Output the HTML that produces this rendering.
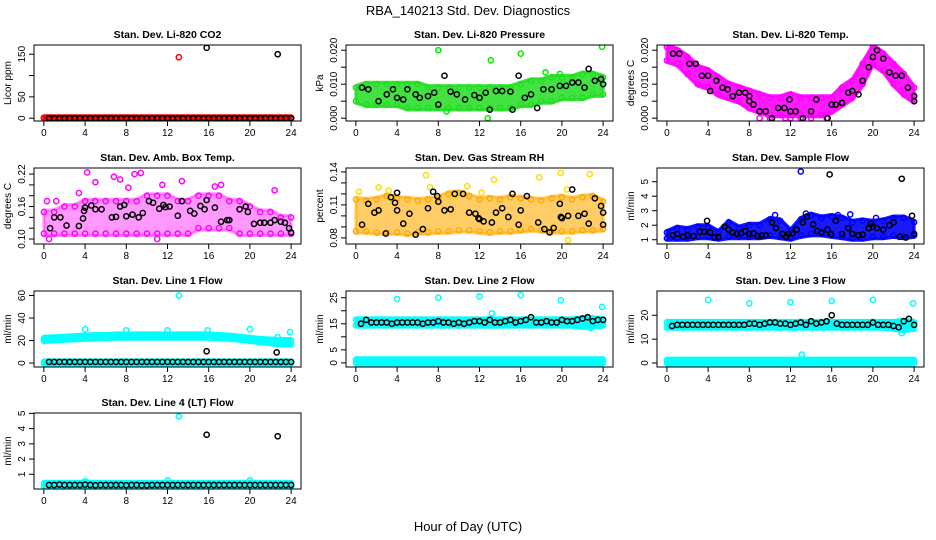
<!DOCTYPE html>
<html><head><meta charset="utf-8"><style>
html,body{margin:0;padding:0;background:#fff}
svg{display:block;font-family:"Liberation Sans",sans-serif}
</style></head><body>
<svg id="chart" width="936" height="540" viewBox="0 0 936 540" xmlns="http://www.w3.org/2000/svg">
<text x="468" y="15" text-anchor="middle" font-size="13">RBA_140213  Std. Dev. Diagnostics</text>
<text x="468" y="531" text-anchor="middle" font-size="13">Hour of Day (UTC)</text>
</svg>
<script>
// ---------- data ----------
const HR = [0,1,2,3,4,5,6,7,8,9,10,11,12,13,14,15,16,17,18,19,20,21,22,23,24];
const HH = [0.5,1,1.5,2,2.5,3,3.5,4,4.5,5,5.5,6,6.5,7,7.5,8,8.5,9,9.5,10,10.5,11,11.5,12,12.5,13,13.5,14,14.5,15,15.5,16,16.5,17,17.5,18,18.5,19,19.5,20,20.5,21,21.5,22,22.5,23,23.5,24];
const xTicks = [0,4,8,12,16,20,24];

// CO2
const co2RedLo = [0,0,0,0,0,0,0,0,0,0,0,0,0,0,0,0,0,0,0,0,0,0,0,0,0];
const co2RedHi = [1,1,1,1,1,1,1,1,1,1,1,1,1,1,1,1,1,1,1,1,1,1,1,1,1];
const co2RedOutX = [13.1,22.6];
const co2RedOutY = [143,0];
const co2BlkY = [0,0,0,0,0,0,0,0,0,0,0,0,0,0,0,0,0,0,0,0,0,0,0,0,0,0,0,0,0,0,0,0,0,0,0,0,0,0,0,0,0,0,0,0,0,0,0,0];
const co2BlkOutX = [15.8,22.7];
const co2BlkOutY = [165,150];

// Pressure
const prsLo = [.005,.004,.004,.004,.004,.003,.003,.003,.003,.003,.003,.003,.003,.003,.003,.003,.004,.004,.005,.005,.006,.006,.006,.007,.007];
const prsHi = [.009,.010,.010,.010,.010,.010,.010,.009,.009,.009,.009,.009,.009,.009,.009,.009,.010,.011,.011,.012,.012,.012,.013,.013,.012];
const prsOutX = [8,13.1,16,18.4,19.8,23.9,12.8,8.8];
const prsOutY = [.020,.017,.019,.0135,.013,.021,.0,.002];
const prsBlkX = [0.6,1.2,2.2,3,3.6,4,4.6,5,5.8,6.2,7,7.6,8,8.6,9.2,9.8,10.6,11.5,12,12.6,13,13.6,14.2,15,15.2,15.8,16.4,17,17.6,18.2,19,19.8,20.4,21,21.6,22.2,22.6,23.2,23.8,24];
const prsBlkY = [.009,.0085,.005,.007,.0085,.006,.0055,.0085,.007,.006,.0065,.0075,.004,.0125,.0078,.007,.0055,.0068,.006,.0075,.0025,.008,.008,.0078,.0025,.0125,.006,.007,.003,.0085,.0085,.0095,.0095,.0105,.0105,.009,.0145,.011,.0115,.01];

// Li-820 Temp
const tmpLo = [.017,.016,.013,.010,.009,.007,.006,.005,.003,.002,.001,.001,.001,.001,.001,.001,.002,.004,.006,.010,.016,.014,.010,.007,.005];
const tmpHi = [.021,.020,.018,.015,.014,.012,.010,.009,.008,.007,.006,.006,.007,.006,.006,.006,.006,.009,.011,.016,.021,.019,.016,.013,.009];
const tmpOutX = [9,10,11.5,12,13,14,15.5];
const tmpOutY = [0,0,0,0,0,0,0];
const tmpBlkX = [0.6,1.2,2.2,2.8,3.4,4,4.2,4.8,5.4,5.9,6.4,7,7.6,8,8,8.4,9,9.6,10.2,10.8,11.4,11.9,12,12.5,13.2,14,14.5,15.6,16,16.4,17,17.6,18,18.6,19,19.6,20,20.4,21,21.6,22.2,22.8,23.4,24,24];
const tmpBlkY = [.019,.019,.016,.016,.0125,.0125,.008,.011,.009,.0085,.0065,.0075,.0075,.0065,.005,.004,.002,.002,.0,.003,.003,.0055,.002,.002,.0,.002,.0055,.0,.004,.004,.0045,.0075,.008,.007,.011,.015,.018,.020,.0175,.0135,.0125,.0125,.009,.0065,.005];

// Amb box temp
const ambLo = [.11,.11,.11,.11,.11,.11,.11,.11,.11,.11,.11,.11,.11,.11,.11,.12,.12,.12,.12,.11,.11,.11,.11,.11,.11];
const ambHi = [.15,.15,.16,.16,.17,.17,.17,.17,.17,.17,.18,.18,.18,.17,.17,.18,.18,.18,.17,.17,.16,.15,.15,.14,.14];
const ambOutX = [4.2,5,6.8,7.4,8.2,8.8,9.4,11.5,13.4,16.6,22.4,11,0.5,17.2,0.3,1.2,3.4];
const ambOutY = [.223,.205,.215,.21,.195,.22,.222,.2,.207,.197,.19,.1,.1,.2,.17,.17,.185];
const ambBlkX = [0.6,1,1.6,2.2,3.4,3.8,3.9,4,4.6,5,5.6,6.6,7,7.4,7.8,8,8.6,9.2,9.6,10.2,10.6,11.2,11.6,11.8,12.2,13,13.4,14.2,14.6,15.2,15.6,15.8,16.6,17.2,17.8,18,19,19.6,19.8,20.4,21,21.4,22,22.4,23,23.4,23.8,24];
const ambBlkY = [.12,.14,.14,.125,.124,.138,.152,.158,.162,.155,.155,.14,.141,.16,.163,.142,.145,.14,.148,.17,.167,.156,.163,.159,.16,.143,.17,.152,.147,.161,.155,.172,.158,.132,.135,.135,.155,.16,.15,.128,.13,.13,.13,.135,.132,.13,.12,.112];

// Gas stream RH
const rhLo = [.086,.086,.085,.085,.085,.084,.085,.085,.086,.086,.087,.087,.086,.085,.086,.086,.087,.088,.087,.086,.086,.086,.087,.087,.088];
const rhHi = [.115,.114,.115,.118,.116,.115,.114,.115,.116,.120,.121,.118,.115,.116,.115,.117,.116,.115,.114,.116,.117,.115,.117,.118,.113];
const rhOutX = [0.3,2.2,6.8,7.2,10.8,13.4,17.8,19.9,22.7,20.6,20.5,9.6,3.2,12.2];
const rhOutY = [.122,.126,.137,.126,.127,.133,.135,.139,.138,.078,.124,.118,.123,.121];
const rhBlkX = [0.6,1.2,1.8,2.2,2.9,3.4,3.8,4,4,4.6,5.2,5.8,6.5,7,7.5,7.9,8,8.6,9.2,9.6,10.4,11,11.6,11.9,12,12.4,13.2,13.6,14.2,14.8,15.2,15.8,16.0,16.6,17.7,18.3,18.8,19.2,19.8,19.9,20,20.6,21.0,21.6,22.2,22.6,23.2,23.8,24,24];
const rhBlkY = [.092,.111,.103,.105,.084,.117,.112,.105,.121,.093,.102,.083,.088,.107,.122,.118,.113,.105,.106,.120,.12,.103,.102,.098,.097,.095,.094,.103,.107,.099,.12,.092,.105,.118,.094,.088,.085,.089,.111,.099,.098,.100,.124,.100,.102,.093,.116,.109,.103,.092];

// Sample flow
const sfLo = [1.1,1.1,1.1,1.2,1.2,1.1,1.2,1.2,1.2,1.2,1.3,1.2,1.1,1.3,1.4,1.4,1.3,1.2,1.1,1.1,1.2,1.2,1.3,1.2,1.3];
const sfHi = [1.5,1.8,1.7,1.9,1.9,1.5,2.2,1.8,2.0,2.0,2.4,2.3,1.6,2.4,2.7,2.5,2.6,2.5,2.2,2.3,2.2,2.3,2.5,2.5,2.2];
const sfOutX = [13,10.5,13.5,16.6,17.8,20.3];
const sfOutY = [5.7,2.7,2.8,2.7,2.75,2.5];
const sfBlkX = [0.6,1,1.6,2,2.6,3.2,3.6,3.9,4.2,4.6,5,5.6,6,6.4,6.8,7.2,7.6,8,8.4,8.8,9.2,9.6,10.2,10.6,11.2,11.6,11.8,12.2,12.6,13.2,13.6,14.2,14.6,15,15.6,15.8,15.9,16.4,17,17.6,18,18.6,19,19.6,19.8,20,20.4,21,21.6,22,22.6,22.8,23.2,23.8,24];
const sfBlkY = [1.3,1.4,1.2,1.3,1.25,1.55,1.55,2.3,1.5,1.15,1.2,1.9,1.7,1.5,1.4,1.45,1.6,1.4,1.45,1.25,1.3,1.3,2.2,1.8,1.4,1.2,1.4,1.45,1.7,2.2,2.6,2.05,1.6,1.5,1.7,5.5,1.4,2.3,1.4,1.8,1.4,1.3,1.35,1.8,2.1,1.9,1.8,1.7,2.0,2.2,1.2,5.2,1.15,2.65,1.4];

// Line 1
const l1Lo = [20,20.5,21,21.5,22,22.5,22.5,23,23,23,23,23,23,23,23,23,23,22.5,22,21,20,19,18,17,17];
const l1Hi = [22,22.5,23,23.5,24,24.5,24.5,25,25,25,25,25,25,25,25,25,25,24.5,24,23,22,21,20.5,20,20];
const l1ZeroLo = [0,0,0,0,0,0,0,0,0,0,0,0,0,0,0,0,0,0,0,0,0,0,0,0,0];
const l1ZeroHi = [1,1,1,1,1,1,1,1,1,1,1,1,1,1,1,1,1,1,1,1,1,1,1,1,1];
const l1OutX = [4,8,12,13.1,15.9,20,22.7,23.9];
const l1OutY = [30,29,29,60,29,30,23,27.5];
const l1BlkY = [1,1,1,1,1,1,1,1,1,1,1,1,1,1,1,1,1,1,1,1,1,1,1,1,1,1,1,1,1,1,1,1,1,1,1,1,1,1,1,1,1,1,1,1,1,1,1,1];
const l1BlkOutX = [15.8,22.6];
const l1BlkOutY = [10.5,9.5];

// Line 2
const l2Lo = [14.5,14.5,14.5,14.5,14.5,14.5,14.5,14.5,14.5,14.5,14.5,14.5,14.5,14.5,14.5,14.5,14.5,14.5,14.5,14.5,14.5,14.5,14,14,14.5];
const l2Hi = [16.5,16.5,16.5,16.5,16.5,16.5,16.5,16.5,16.5,16.5,16.5,16.5,16.5,16.5,16.5,16.5,16.5,16.5,16.5,16.5,16.5,16.5,17,17,16.5];
const l2ZeroLo = [0,0,0,0,0,0,0,0,0,0,0,0,0,0,0,0,0,0,0,0,0,0,0,0,0];
const l2ZeroHi = [1.2,1.2,1.2,1.2,1.2,1.2,1.2,1.2,1.2,1.2,1.2,1.2,1.2,1.2,1.2,1.2,1.2,1.2,1.2,1.2,1.2,1.2,1.2,1.2,1.2];
const l2OutX = [4,8,12,16,19.9,23.9,13.2,22.8];
const l2OutY = [24.5,25,25.5,26,24,21.5,19,13.5];
const l2BlkY = [15,16.5,15.5,15.5,15.5,15.5,15,15.5,15.5,15.5,15.5,15.5,15,15.5,15.5,16,15.5,15.5,15,15.5,15,15.5,16,16,15.5,16.5,15.5,15.5,16,16.5,15.5,16,16.5,17.5,15.5,15.5,16,15.5,15.5,16.5,16,16,16.5,17,17.5,16,16.5,16.5];

// Line 3
const l3Lo = [15,15,15,15,15,15,15,15,15,15,15,15,15,15,15,15,15,15,15,15,15,15,14.5,14,14.5];
const l3Hi = [17,17,17,17,17,17,17,17,17,17,17,17,17,17,17,17,17,17,17,17,17,17,17,17.5,17];
const l3ZeroLo = [0,0,0,0,0,0,0,0,0,0,0,0,0,0,0,0,0,0,0,0,0,0,0,0,0];
const l3ZeroHi = [1.2,1.2,1.2,1.2,1.2,1.2,1.2,1.2,1.2,1.2,1.2,1.2,1.2,1.2,1.2,1.2,1.2,1.2,1.2,1.2,1.2,1.2,1.2,1.2,1.2];
const l3OutX = [4,8,12,16,20,23.9,13.1,22.8];
const l3OutY = [26.5,25,25.5,26,26.5,25,3.5,12.5];
const l3BlkY = [15.5,16,16,16,16,16,16,16,16,16,16,16,16,16,16,16.5,16.5,16,16.5,17,17,16.5,16.5,16,16.5,17,16,17.5,16.5,17,17.5,20,16.5,16,16,16,16,16,16,17,16,16,16,15.5,15,17.5,18.5,16];

// Line 4
const l4Lo = [0.22,0.22,0.22,0.22,0.22,0.22,0.22,0.22,0.22,0.22,0.22,0.22,0.22,0.22,0.22,0.22,0.22,0.22,0.22,0.22,0.22,0.22,0.22,0.22,0.22];
const l4Hi = [0.4,0.4,0.4,0.4,0.42,0.4,0.4,0.4,0.4,0.4,0.4,0.4,0.42,0.4,0.4,0.4,0.4,0.4,0.4,0.4,0.42,0.4,0.4,0.4,0.4];
const l4OutX = [13.1,4,12,20];
const l4OutY = [4.8,0.55,0.6,0.6];
const l4BlkY = [0.3,0.3,0.32,0.3,0.3,0.3,0.3,0.32,0.3,0.28,0.3,0.3,0.3,0.3,0.3,0.28,0.3,0.3,0.28,0.28,0.3,0.3,0.3,0.3,0.3,0.3,0.3,0.3,0.3,0.3,0.3,0.3,0.3,0.3,0.3,0.3,0.3,0.3,0.3,0.3,0.3,0.3,0.3,0.3,0.3,0.3,0.3,0.3];
const l4BlkOutX = [15.8,22.7];
const l4BlkOutY = [3.6,3.5];

// ---------- layout ----------
const NS = 'http://www.w3.org/2000/svg';
const svg = document.getElementById('chart');
const colLeft = [34,346,657];
const rowTop = [45,168,291,413];
const BW = 267, BH = 76;

function mk(tag, attrs, parent){
  const e = document.createElementNS(NS, tag);
  for (const k in attrs) e.setAttribute(k, attrs[k]);
  (parent||svg).appendChild(e);
  return e;
}

const panels = [
 {key:'co2', title:'Stan. Dev. Li-820 CO2', ylab:'Licor ppm', c:0, r:0, ylim:[0,165], ticks:[0,50,100,150], labs:['0','50','','150'],
  bands:[{col:'#ff0000', lo:co2RedLo, hi:co2RedHi}], pts:[{col:'#ff0000',x:co2RedOutX,y:co2RedOutY},{col:'#000',x:HH,y:co2BlkY},{col:'#000',x:co2BlkOutX,y:co2BlkOutY}]},
 {key:'pressure', title:'Stan. Dev. Li-820 Pressure', ylab:'kPa', c:1, r:0, ylim:[0,0.0207], ticks:[0,.005,.01,.015,.02], labs:['0.000','','0.010','','0.020'],
  bands:[{col:'#22dd22', lo:prsLo, hi:prsHi, op:0.85}], pts:[{col:'#00ee00',x:prsOutX,y:prsOutY},{col:'#000',x:prsBlkX,y:prsBlkY}]},
 {key:'temp', title:'Stan. Dev. Li-820 Temp.', ylab:'degrees C', c:2, r:0, ylim:[0,0.0207], ticks:[0,.005,.01,.015,.02], labs:['0.000','','0.010','','0.020'],
  bands:[{col:'#ff00ff', lo:tmpLo, hi:tmpHi, op:0.9}], pts:[{col:'#ff00ff',x:tmpOutX,y:tmpOutY},{col:'#000',x:tmpBlkX,y:tmpBlkY}]},
 {key:'ambtemp', title:'Stan. Dev. Amb. Box Temp.', ylab:'degrees C', c:0, r:1, ylim:[0.096,0.226], ticks:[.10,.12,.14,.16,.18,.20,.22], labs:['0.10','','','0.16','','','0.22'],
  bands:[{col:'#ff00ff', lo:ambLo, hi:ambHi, op:0.4}], pts:[{col:'#ff00ff',x:ambOutX,y:ambOutY},{col:'#000',x:ambBlkX,y:ambBlkY}]},
 {key:'rh', title:'Stan. Dev. Gas Stream RH', ylab:'percent', c:1, r:1, ylim:[0.077,0.141], ticks:[.08,.09,.10,.11,.12,.13,.14], labs:['0.08','','','0.11','','','0.14'],
  bands:[{col:'#ffaa00', lo:rhLo, hi:rhHi, op:0.6}], pts:[{col:'#ffdd00',x:rhOutX,y:rhOutY},{col:'#000',x:rhBlkX,y:rhBlkY}]},
 {key:'sampleflow', title:'Stan. Dev. Sample Flow', ylab:'ml/min', c:2, r:1, ylim:[0.9,5.75], ticks:[1,2,3,4,5], labs:['1','2','3','4','5'],
  bands:[{col:'#0000ff', lo:sfLo, hi:sfHi, op:0.9}], pts:[{col:'#0000ff',x:sfOutX,y:sfOutY},{col:'#000',x:sfBlkX,y:sfBlkY}]},
 {key:'line1', title:'Stan. Dev. Line 1 Flow', ylab:'ml/min', c:0, r:2, ylim:[-1,61.5], ticks:[0,20,40,60], labs:['0','20','40','60'],
  bands:[{col:'#00ffff', lo:l1Lo, hi:l1Hi},{col:'#00ffff', lo:l1ZeroLo, hi:l1ZeroHi}], pts:[{col:'#00ffff',x:l1OutX,y:l1OutY},{col:'#000',x:HH,y:l1BlkY},{col:'#000',x:l1BlkOutX,y:l1BlkOutY}]},
 {key:'line2', title:'Stan. Dev. Line 2 Flow', ylab:'ml/min', c:1, r:2, ylim:[-0.5,26.5], ticks:[0,5,10,15,20,25], labs:['0','5','','15','','25'],
  bands:[{col:'#00ffff', lo:l2Lo, hi:l2Hi},{col:'#00ffff', lo:l2ZeroLo, hi:l2ZeroHi}], pts:[{col:'#00ffff',x:l2OutX,y:l2OutY},{col:'#000',x:HH,y:l2BlkY}]},
 {key:'line3', title:'Stan. Dev. Line 3 Flow', ylab:'ml/min', c:2, r:2, ylim:[-0.5,29], ticks:[0,10,20], labs:['0','10','20'],
  bands:[{col:'#00ffff', lo:l3Lo, hi:l3Hi},{col:'#00ffff', lo:l3ZeroLo, hi:l3ZeroHi}], pts:[{col:'#00ffff',x:l3OutX,y:l3OutY},{col:'#000',x:HH,y:l3BlkY}]},
 {key:'line4', title:'Stan. Dev. Line 4 (LT) Flow', ylab:'ml/min', c:0, r:3, ylim:[0.22,4.84], ticks:[1,2,3,4,5], labs:['1','2','3','4','5'],
  bands:[{col:'#00ffff', lo:l4Lo, hi:l4Hi}], pts:[{col:'#00ffff',x:l4OutX,y:l4OutY},{col:'#000',x:HH,y:l4BlkY},{col:'#000',x:l4BlkOutX,y:l4BlkOutY}]}
];

panels.forEach(p => {
  const L = colLeft[p.c], T = rowTop[p.r];
  const px = BW*0.04/1.08, py = BH*0.04/1.08;
  const xs = v => L + px + v/24*(BW-2*px);
  const ys = v => T + BH - py - (v-p.ylim[0])/(p.ylim[1]-p.ylim[0])*(BH-2*py);
  const g = mk('g', {});
  
  

  const clip = mk('clipPath', {id:'clip-'+p.key}, g);
  mk('rect', {x:L, y:T, width:BW, height:BH}, clip);
  const plot = mk('g', {'clip-path':'url(#clip-'+p.key+')'}, g);
  
  

  p.bands.forEach(b => {
    let d = '';
    HR.forEach((h,i) => { d += (i?'L':'M') + xs(h).toFixed(1) + ' ' + (ys(b.hi[i])-2).toFixed(1); });
    for (let i = HR.length-1; i >= 0; i--) d += 'L' + xs(HR[i]).toFixed(1) + ' ' + (ys(b.lo[i])+2).toFixed(1);
    const band = mk('path', {d:d+'Z', fill:b.col, 'fill-opacity':b.op||1, stroke:b.col, 'stroke-opacity':b.op||1, 'stroke-width':3, 'stroke-linejoin':'round'}, plot);
    
    
    HR.forEach((h,i) => {
      [b.lo[i], b.hi[i]].forEach(v => {
        const c = mk('circle', {cx:xs(h), cy:ys(v), r:2.6, fill:'none', stroke:b.col, 'stroke-width':1.4}, plot);
        
        
      });
    });
  });
  p.pts.forEach(s => {
    s.x.forEach((xv,i) => {
      const c = mk('circle', {cx:xs(xv), cy:ys(s.y[i]), r:2.6, fill:'none', stroke:s.col, 'stroke-width':1.5}, plot);
      
      
    });
  });

  const box = mk('rect', {x:L, y:T, width:BW, height:BH, fill:'none', stroke:'#000', 'stroke-width':1}, g);
  
  

  const xa = mk('g', {}, g);
  
  
  xTicks.forEach(t => {
    mk('line', {x1:xs(t), x2:xs(t), y1:T+BH, y2:T+BH+5, stroke:'#000'}, xa);
    const tx = mk('text', {x:xs(t), y:T+BH+15, 'text-anchor':'middle', 'font-size':10}, xa);
    tx.textContent = t;
    
    
  });
  const ya = mk('g', {}, g);
  
  
  p.ticks.forEach((t,i) => {
    const y = ys(t);
    mk('line', {x1:L-5, x2:L, y1:y, y2:y, stroke:'#000'}, ya);
    if (p.labs[i]) {
      const tx = mk('text', {x:0, y:0, 'text-anchor':'middle', 'font-size':10, transform:'translate('+(L-9)+','+y+') rotate(-90)'}, ya);
      tx.textContent = p.labs[i];
      
      
    }
  });
  const yl = mk('text', {x:0, y:0, 'text-anchor':'middle', 'font-size':10, transform:'translate('+(L-23)+','+(T+BH/2)+') rotate(-90)'}, g);
  yl.textContent = p.ylab;
  
  
  const ti = mk('text', {x:L+BW/2, y:T-7, 'text-anchor':'middle', 'font-size':10.5, 'font-weight':'bold'}, g);
  ti.textContent = p.title;
  
  
});
</script>
</body></html>
